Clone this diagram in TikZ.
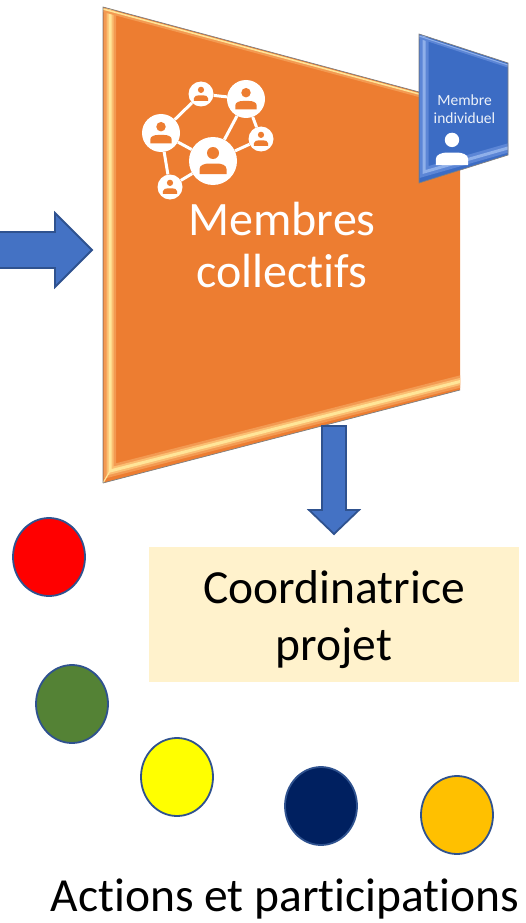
\documentclass[tikz,border=0pt]{standalone}
\usepackage{fontspec}
\setmainfont{Carlito}[Ligatures=NoCommon]
\usepackage{xcolor}
\usepackage{tikz}

\definecolor{panelorange}{HTML}{ED7D31}
\definecolor{panelblue}{HTML}{3C6CC4}
\definecolor{arrowblue}{HTML}{4472C4}
\definecolor{arrowedge}{HTML}{2F528F}
\definecolor{boxcream}{HTML}{FFF2CC}
\definecolor{glowouter}{HTML}{F39A52}
\definecolor{glowmiddle}{HTML}{FBBE72}
\definecolor{glowinner}{HTML}{FFE598}
\definecolor{bluelight}{HTML}{8FB0EA}
\definecolor{bluemiddle}{HTML}{5C86D6}
\definecolor{dotgreen}{HTML}{548235}
\definecolor{dotyellow}{HTML}{FFFF00}
\definecolor{dotnavy}{HTML}{002060}
\definecolor{dotamber}{HTML}{FFC000}

\tikzset{
  blockarrow/.style={draw=arrowedge, fill=arrowblue, line width=1.8pt, line join=miter},
  dot/.style={draw=arrowedge, line width=1.8pt},
  link/.style={draw=white, line width=3pt},
  hub/.style={circle, fill=white, inner sep=0pt},
  bigtext/.style={font=\fontsize{48}{52}\selectfont, align=center},
  person/.pic={
    \fill[pic actions] (0,-8) circle (6);
    \fill[pic actions] (-13.5,13) -- (-13.5,8) .. controls (-13.5,4) and (-8,2.5) .. (-4,2.5)
      -- (4,2.5) .. controls (8,2.5) and (13.5,4) .. (13.5,8) -- (13.5,13) -- cycle;
  }
}

\begin{document}
\begin{tikzpicture}[x=1pt, y=-1pt]
  \useasboundingbox (0,0) rectangle (526,923);

  % left arrow
  \draw [blockarrow] (-5,232) -- (55,232) -- (55,213) -- (92,250) -- (55,287) -- (55,268) -- (-5,268) -- cycle;

  % orange panel
  \fill [panelorange] (103,7) -- (460,103) -- (460,390) -- (103,483) -- cycle;
  \begin{scope}
    \clip (103,7) -- (460,103) -- (460,390) -- (103,483) -- cycle;
    \draw [line width=12pt, color=glowouter, line join=miter] (110,-5) -- (110,471) -- (470,379);
    \draw [line width=7pt, color=glowmiddle, line join=miter] (110,-5) -- (110,471) -- (470,379);
    \draw [line width=3pt, color=glowinner, line join=miter] (110,-5) -- (110,471) -- (470,379);
    \draw [line width=4pt, color=glowouter] (103,10) -- (460,106);
    \draw [line width=1.5pt, color=glowinner] (103,9) -- (460,105);
    \draw [line width=1.2pt, color=glowinner] (103,483) -- (110,471);
  \end{scope}
  \draw [line width=.7pt, color=gray] (103,483) -- (103,7) -- (460,103);
  \draw [line width=.7pt, color=gray] (103,483) -- (460,390);

  % network icon
  \node [hub, minimum size=25pt] (topsmall) at (201,94) {};
  \node [hub, minimum size=38pt] (topright) at (246,99) {};
  \node [hub, minimum size=38pt] (left) at (161,133) {};
  \node [hub, minimum size=48pt] (centre) at (213,161) {};
  \node [hub, minimum size=25pt] (rightsmall) at (261,139) {};
  \node [hub, minimum size=25pt] (bottomsmall) at (170,187) {};
  \draw [link] (topsmall) -- (topright);
  \draw [link] (topsmall) -- (left);
  \draw [link] (topright) -- (centre);
  \draw [link] (topright) -- (rightsmall);
  \draw [link] (left) -- (centre);
  \draw [link] (left) -- (bottomsmall);
  \draw [link] (centre) -- (rightsmall);
  \draw [link] (centre) -- (bottomsmall);
  \pic [fill=panelorange, scale=1] at (centre) {person};
  \pic [fill=panelorange, scale=.79] at (topright) {person};
  \pic [fill=panelorange, scale=.79] at (left) {person};
  \pic [fill=panelorange, scale=.52] at (topsmall) {person};
  \pic [fill=panelorange, scale=.52] at (rightsmall) {person};
  \pic [fill=panelorange, scale=.52] at (bottomsmall) {person};

  \node [bigtext, text=white] (collectifs) at (282,245) {Membres\\collectifs};

  % blue panel
  \fill [panelblue] (419,34) -- (508,63) -- (508,155) -- (419,183) -- cycle;
  \begin{scope}
    \clip (419,34) -- (508,63) -- (508,155) -- (419,183) -- cycle;
    \draw [line width=9pt, color=bluemiddle, line join=miter] (424,30) -- (424,172) -- (515,146);
    \draw [line width=3pt, color=bluelight, line join=miter] (424,30) -- (424,172) -- (515,146);
    \draw [line width=3pt, color=bluemiddle] (419,37) -- (508,66);
    \draw [line width=1pt, color=bluelight] (419,36) -- (508,65);
  \end{scope}
  \draw [line width=.7pt, color=gray] (419,34) -- (508,63) -- (508,155) -- (419,183) -- cycle;
  \node [text=white!90!arrowblue, font=\fontsize{15.5}{18}\selectfont, align=center] (individuel) at (464.5,109) {Membre\\individuel};
  \pic [fill=white, scale=1.2] at (452,149.5) {person};

  % down arrow
  \draw [blockarrow] (322,426) -- (346,426) -- (346,510) -- (359,510) -- (334,534) -- (309,510) -- (322,510) -- cycle;

  \fill [boxcream] (149,547) rectangle (519,682);
  \node [font=\fontsize{47.5}{57}\selectfont, align=center] (coordinatrice) at (334,619.5) {Coordinatrice\\projet};

  % actions
  \draw [dot, fill=red] (49,557) ellipse (36 and 39);
  \draw [dot, fill=dotgreen] (72,704) ellipse (36 and 39);
  \draw [dot, fill=dotyellow] (177,777) ellipse (36 and 39);
  \draw [dot, fill=dotnavy] (321,806) ellipse (36 and 39);
  \draw [dot, fill=dotamber] (457,815) ellipse (36 and 39);

  \node [font=\fontsize{47.5}{52}\selectfont, anchor=base] (actions) at (285,911) {Actions et participations};
\end{tikzpicture}
\end{document}
